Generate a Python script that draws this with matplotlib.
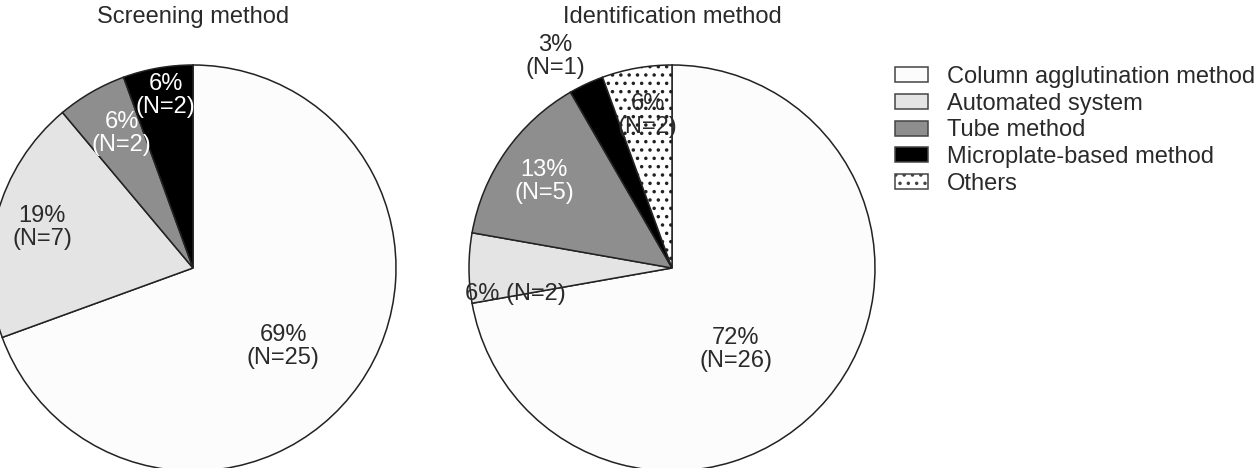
import numpy as np
import matplotlib.pyplot as plt
from matplotlib.patches import Patch

plt.rcParams['font.family'] = ['Liberation Sans', 'DejaVu Sans']
plt.rcParams['hatch.linewidth'] = 1.3

categories = ["Column agglutination method", "Automated system", "Tube method",
              "Microplate-based method", "Others"]
fills = ['#fcfcfc', '#e4e4e4', '#8e8e8e', '#000000', '#ffffff']
hatches = [None, None, None, None, '..']

# screening method (no "Others")
screen_n = [25, 7, 2, 2]
screen_pct = [69, 19, 6, 6]
screen_sep = ['\n', '\n', '\n', '\n']
screen_txtcol = ['#2a2a2a', '#2a2a2a', 'white', 'white']
screen_dist = [0.59, 0.77, 0.75, 0.86]
screen_nudge = [-6, 0, -2, -1]

# identification method
ident_n = [26, 2, 5, 1, 2]
ident_pct = [72, 6, 13, 3, 6]
ident_sep = ['\n', ' ', '\n', '\n', '\n']
ident_txtcol = ['#2a2a2a', '#2a2a2a', 'white', '#2a2a2a', '#2a2a2a']
ident_dist = [0.51, 0.78, 0.76, 1.19, 0.76]
ident_nudge = [-12, 9.5, 1, 4, -1]

W, H = 1257, 468
fig = plt.figure(figsize=(W / 100, H / 100), dpi=100)
ax = fig.add_axes([0, 0, 1, 1])
R = 203


def draw_pie(cx, cy, counts, pcts, seps, txtcol, dists, nudges, title):
    k = len(counts)
    wedges, _ = ax.pie(counts, colors=fills[:k], startangle=90, counterclock=False,
                       center=(cx, cy), radius=R,
                       wedgeprops=dict(edgecolor='#222222', linewidth=1.1))
    for w, h in zip(wedges, hatches[:k]):
        if h:
            w.set_hatch(h)
    for w, n, p, s, c, d, nd in zip(wedges, counts, pcts, seps, txtcol, dists, nudges):
        ang = np.deg2rad((w.theta1 + w.theta2) / 2 + nd)
        ax.text(cx + d * R * np.cos(ang), cy + d * R * np.sin(ang),
                f"{p}%{s}(N={n})", ha='center', va='center', fontsize=17,
                color=c, linespacing=1.05)
    ax.text(cx, H - 17, title, ha='center', va='center', fontsize=17, color='#2a2a2a')
    return wedges


draw_pie(193, H - 268, screen_n, screen_pct, screen_sep, screen_txtcol,
         screen_dist, screen_nudge, "Screening method")
draw_pie(672, H - 268, ident_n, ident_pct, ident_sep, ident_txtcol,
         ident_dist, ident_nudge, "Identification method")

ax.set_xlim(0, W)
ax.set_ylim(0, H)
ax.set_aspect('equal')
ax.axis('off')

handles = [Patch(facecolor=f, edgecolor='#444444', hatch=h, linewidth=1.1)
           for f, h in zip(fills, hatches)]
fig.legend(handles, categories, loc='upper left', bbox_to_anchor=(895 / W, 1 - 66 / H),
           frameon=False, fontsize=17, handlelength=1.4, handleheight=0.6,
           handletextpad=0.8, labelspacing=0.2, borderpad=0, borderaxespad=0,
           labelcolor='#2a2a2a')

fig.savefig("out.png", dpi=100)
